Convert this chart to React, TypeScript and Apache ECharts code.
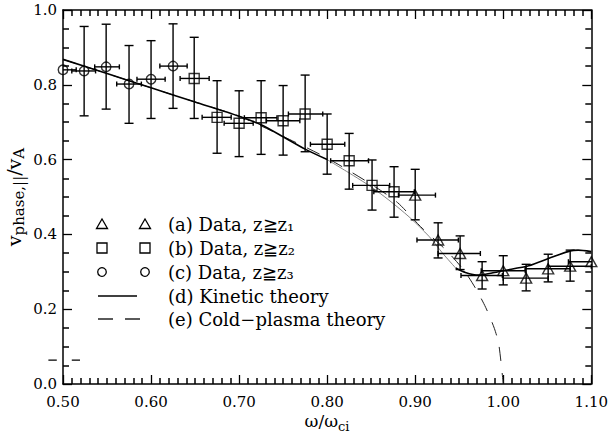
import React, { useEffect, useRef } from "react";
import * as echarts from "echarts";

// ---------- axis ranges ----------
const xMin = 0.5;
const xMax = 1.1;
const xStep = 0.1;
const xMinorSplit = 10;
const yMin = 0.0;
const yMax = 1.0;
const yStep = 0.2;
const yMinorSplit = 4;

// ---------- (a) triangles ----------
const triX = [0.900, 0.926, 0.951, 0.976, 1.000, 1.026, 1.051, 1.076, 1.100];
const triY = [0.505, 0.385, 0.349, 0.290, 0.303, 0.283, 0.308, 0.315, 0.327];
const triYLo = [0.439, 0.337, 0.306, 0.254, 0.265, 0.249, 0.273, 0.275, 0.327];
const triYHi = [0.574, 0.431, 0.396, 0.327, 0.343, 0.320, 0.347, 0.358, 0.327];
const triXLo = [0.881, 0.902, 0.926, 0.952, 0.975, 1.000, 1.025, 1.051, 1.074];
const triXHi = [0.923, 0.949, 0.974, 0.999, 1.025, 1.051, 1.076, 1.100, 1.125];

// ---------- (b) squares ----------
const sqX = [0.649, 0.675, 0.700, 0.725, 0.750, 0.775, 0.800, 0.825, 0.851, 0.876];
const sqY = [0.817, 0.713, 0.697, 0.712, 0.704, 0.722, 0.641, 0.597, 0.531, 0.514];
const sqYLo = [0.710, 0.617, 0.608, 0.614, 0.612, 0.621, 0.561, 0.521, 0.465, 0.446];
const sqYHi = [0.927, 0.811, 0.784, 0.811, 0.798, 0.826, 0.722, 0.670, 0.599, 0.581];
const sqXLo = [0.633, 0.658, 0.683, 0.706, 0.731, 0.756, 0.781, 0.804, 0.829, 0.853];
const sqXHi = [0.666, 0.691, 0.716, 0.743, 0.769, 0.795, 0.820, 0.847, 0.871, 0.899];

// ---------- (c) circles ----------
const cX = [0.500, 0.524, 0.549, 0.575, 0.600, 0.625];
const cY = [0.840, 0.837, 0.848, 0.802, 0.815, 0.850];
const cYLo = [0.840, 0.717, 0.735, 0.697, 0.710, 0.737];
const cYHi = [0.840, 0.956, 0.962, 0.905, 0.918, 0.963];
const cXLo = [0.487, 0.510, 0.536, 0.561, 0.584, 0.610];
const cXHi = [0.515, 0.537, 0.564, 0.589, 0.616, 0.641];

// ---------- (d) kinetic theory ----------
const kinX = [0.50, 0.55, 0.60, 0.65, 0.70, 0.725, 0.75, 0.775, 0.80, 0.83, 0.85, 0.87, 0.893, 0.916, 0.931, 0.946, 0.957, 0.972, 0.99, 1.00, 1.029, 1.052, 1.076, 1.085, 1.10];
const kinY = [0.868, 0.830, 0.792, 0.754, 0.716, 0.693, 0.661, 0.628, 0.600, 0.557, 0.527, 0.492, 0.447, 0.394, 0.350, 0.310, 0.298, 0.291, 0.298, 0.303, 0.316, 0.336, 0.356, 0.358, 0.354];
const kinThinStart = 8; // index where the faint part begins
const kinThinEnd = 15; // index where it ends

// ---------- (e) cold-plasma theory ----------
const coldX = [0.50, 0.55, 0.60, 0.65, 0.70, 0.75, 0.80, 0.85, 0.88, 0.906, 0.935, 0.955, 0.968, 0.98, 0.99, 0.995, 1.00];
const coldY = [0.868, 0.830, 0.792, 0.754, 0.716, 0.662, 0.604, 0.534, 0.485, 0.421, 0.358, 0.305, 0.258, 0.205, 0.148, 0.105, 0.0];

// stray dashed mark at the left edge: [xStart, xEnd, y]
const strayDash = [[0.4834, 0.5193, 0.064]];

// legend
const legendLabels = [
  "(a) Data, z≧z₁",
  "(b) Data, z≧z₂",
  "(c) Data, z≧z₃",
  "(d) Kinetic theory",
  "(e) Cold−plasma theory",
];

const FONT = "'DejaVu Serif', 'Liberation Serif', serif";

const zip = (...arrs: number[][]) => arrs[0].map((_, i) => arrs.map((a) => a[i]));

const errRender = (params: any, api: any) => {
  const x = api.value(0);
  const y = api.value(1);
  const xl = api.value(2);
  const xh = api.value(3);
  const yl = api.value(4);
  const yh = api.value(5);
  const st = { stroke: "#000", lineWidth: 1.4, fill: "none" };
  const children: any[] = [];
  const a = api.coord([xl, y]);
  const b = api.coord([xh, y]);
  children.push({ type: "line", shape: { x1: a[0], y1: a[1], x2: b[0], y2: b[1] }, style: st });
  children.push({ type: "line", shape: { x1: a[0], y1: a[1] - 2.5, x2: a[0], y2: a[1] + 2.5 }, style: st });
  children.push({ type: "line", shape: { x1: b[0], y1: b[1] - 2.5, x2: b[0], y2: b[1] + 2.5 }, style: st });
  if (yh > yl) {
    const c = api.coord([x, yl]);
    const d = api.coord([x, yh]);
    children.push({ type: "line", shape: { x1: c[0], y1: c[1], x2: d[0], y2: d[1] }, style: st });
    children.push({ type: "line", shape: { x1: c[0] - 4.5, y1: c[1], x2: c[0] + 4.5, y2: c[1] }, style: st });
    children.push({ type: "line", shape: { x1: d[0] - 4.5, y1: d[1], x2: d[0] + 4.5, y2: d[1] }, style: st });
  }
  return { type: "group", children };
};

const errSeries = (data: number[][]) => ({
  type: "custom",
  renderItem: errRender,
  data,
  clip: true,
  encode: { x: 0, y: 1 },
  silent: true,
  z: 4,
});

const symSeries = (data: number[][], symbol: string, size: any) => ({
  type: "scatter",
  data,
  symbol,
  symbolSize: size,
  clip: true,
  silent: true,
  itemStyle: { color: "rgba(0,0,0,0)", borderColor: "#000", borderWidth: 1.4 },
  z: 5,
});

const lineSeries = (xs: number[], ys: number[], lineStyle: any) => ({
  type: "line",
  data: zip(xs, ys),
  showSymbol: false,
  smooth: 0.25,
  clip: true,
  silent: true,
  lineStyle,
  z: 3,
});

function buildLegend() {
  const rowsY = [224, 248, 272, 296, 319];
  const sx1 = 102;
  const sx2 = 145;
  const tx = 168;
  const st = { stroke: "#000", lineWidth: 1.3, fill: "none" };
  const els: any[] = [];
  const tri = (cx: number, cy: number) => ({
    type: "polygon",
    shape: { points: [[cx - 5.5, cy + 4.5], [cx + 5.5, cy + 4.5], [cx, cy - 5]] },
    style: st,
  });
  const sq = (cx: number, cy: number) => ({ type: "rect", shape: { x: cx - 5, y: cy - 5, width: 10, height: 10 }, style: st });
  const ci = (cx: number, cy: number) => ({ type: "circle", shape: { cx, cy, r: 4.3 }, style: st });
  els.push(tri(sx1, rowsY[0]), tri(sx2, rowsY[0]));
  els.push(sq(sx1, rowsY[1]), sq(sx2, rowsY[1]));
  els.push(ci(sx1, rowsY[2]), ci(sx2, rowsY[2]));
  els.push({ type: "line", shape: { x1: 98, y1: rowsY[3], x2: 137, y2: rowsY[3] }, style: st });
  els.push({ type: "line", shape: { x1: 98, y1: rowsY[4], x2: 113, y2: rowsY[4] }, style: st });
  els.push({ type: "line", shape: { x1: 125, y1: rowsY[4], x2: 140, y2: rowsY[4] }, style: st });
  legendLabels.forEach((t, i) => {
    els.push({
      type: "text",
      x: tx,
      y: rowsY[i],
      style: { text: t, fill: "#000", font: `18px ${FONT}`, align: "left", verticalAlign: "middle" },
    });
  });
  return els;
}

export default function App() {
  const ref = useRef<HTMLDivElement>(null);
  useEffect(() => {
    const chart = echarts.init(ref.current!, null, { renderer: "svg" });
    const axisLineStyle = { color: "#000", width: 1.5 };
    const majorTick = { show: true, inside: true, length: 9, lineStyle: { color: "#000", width: 1.3 } };
    const minorTickX = { show: true, splitNumber: xMinorSplit, length: 6, lineStyle: { color: "#000", width: 1.5 } };
    const minorTickY = { show: true, splitNumber: yMinorSplit, length: 6, lineStyle: { color: "#000", width: 1.5 } };
    const xAxisDef = (position: string, labels: boolean) => ({
      type: "value",
      position,
      min: xMin,
      max: xMax,
      interval: xStep,
      axisLine: { show: true, onZero: false, lineStyle: axisLineStyle },
      axisTick: majorTick,
      minorTick: minorTickX,
      splitLine: { show: false },
      axisLabel: labels
        ? { color: "#000", fontFamily: FONT, fontSize: 15, margin: 10, formatter: (v: number) => v.toFixed(2) }
        : { show: false },
    });
    const yAxisDef = (position: string, labels: boolean) => ({
      type: "value",
      position,
      min: yMin,
      max: yMax,
      interval: yStep,
      axisLine: { show: true, onZero: false, lineStyle: axisLineStyle },
      axisTick: majorTick,
      minorTick: minorTickY,
      splitLine: { show: false },
      axisLabel: labels
        ? { color: "#000", fontFamily: FONT, fontSize: 15, margin: 6, formatter: (v: number) => v.toFixed(1) }
        : { show: false },
    });
    const option: any = {
      animation: false,
      backgroundColor: "#fff",
      grid: { left: 63, right: 18, top: 10, bottom: 55, containLabel: false },
      xAxis: [xAxisDef("bottom", true), xAxisDef("top", false)],
      yAxis: [yAxisDef("left", true), yAxisDef("right", false)],
      series: [
        lineSeries(coldX, coldY, { color: "#222", width: 1, type: [14, 12] }),
        lineSeries(kinX.slice(0, kinThinStart + 1), kinY.slice(0, kinThinStart + 1), { color: "#000", width: 1.6 }),
        lineSeries(kinX.slice(kinThinStart, kinThinEnd + 1), kinY.slice(kinThinStart, kinThinEnd + 1), { color: "#777", width: 0.9 }),
        lineSeries(kinX.slice(kinThinEnd), kinY.slice(kinThinEnd), { color: "#000", width: 1.6 }),
        {
          type: "custom",
          data: strayDash,
          clip: false,
          silent: true,
          encode: { x: 0, y: 2 },
          renderItem: (_p: any, api: any) => {
            const a = api.coord([api.value(0), api.value(2)]);
            const b = api.coord([api.value(1), api.value(2)]);
            return {
              type: "line",
              shape: { x1: a[0], y1: a[1], x2: b[0], y2: b[1] },
              style: { stroke: "#000", lineWidth: 1.2, lineDash: [8.4, 15] },
            };
          },
        },
        symSeries(zip(triX, triY), "triangle", [11, 10]),
        symSeries(zip(sqX, sqY), "rect", [10, 10]),
        symSeries(zip(cX, cY), "circle", 9.5),
        errSeries(zip(triX, triY, triXLo, triXHi, triYLo, triYHi)),
        errSeries(zip(sqX, sqY, sqXLo, sqXHi, sqYLo, sqYHi)),
        errSeries(zip(cX, cY, cXLo, cXHi, cYLo, cYHi)),
      ],
      graphic: [
        ...buildLegend(),
        {
          type: "text",
          x: 327,
          y: 421,
          style: {
            text: "{m|ω/ω}{s|ci}",
            align: "center",
            verticalAlign: "middle",
            rich: {
              m: { fontSize: 17, fontFamily: FONT, fill: "#000" },
              s: { fontSize: 13, fontFamily: FONT, fill: "#000", padding: [10, 0, 0, 0] },
            },
          },
        },
        {
          type: "text",
          x: 14,
          y: 197,
          rotation: Math.PI / 2,
          style: {
            text: "{m|v}{s|phase,||}{m|/v}{s|A}",
            align: "center",
            verticalAlign: "middle",
            rich: {
              m: { fontSize: 19, fontFamily: FONT, fill: "#000" },
              s: { fontSize: 15, fontFamily: FONT, fill: "#000", padding: [10, 0, 0, 0] },
            },
          },
        },
      ],
    };
    chart.setOption(option);
    return () => chart.dispose();
  }, []);
  return (
    <div
      ref={ref}
      style={{ position: "absolute", left: 0, top: 0, width: 611, height: 439, background: "#fff" }}
    />
  );
}
